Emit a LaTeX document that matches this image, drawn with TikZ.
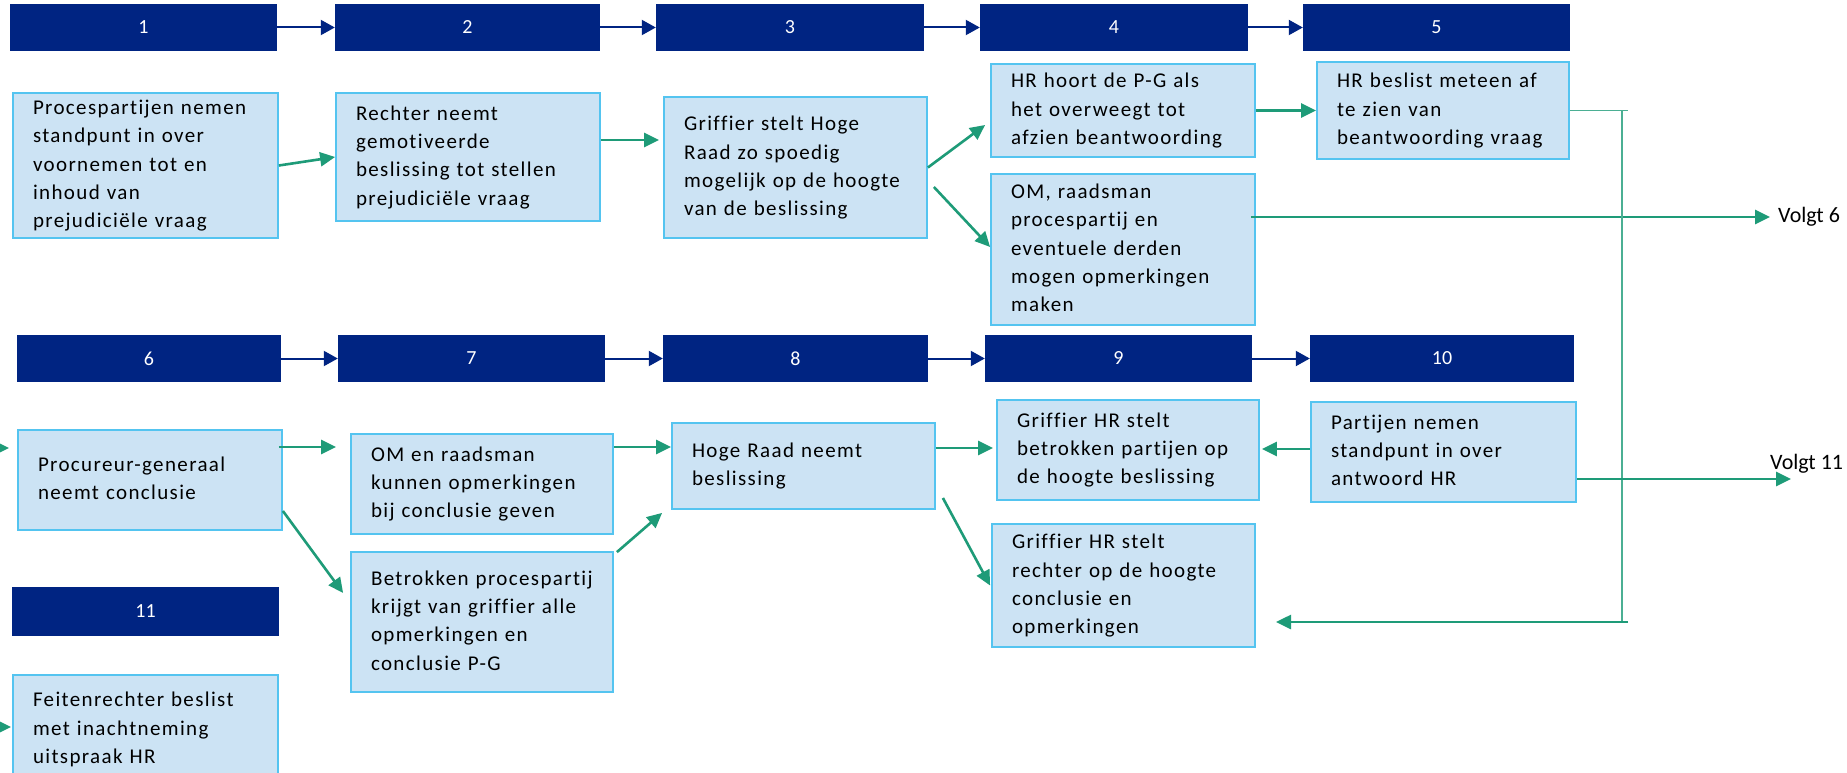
\documentclass[tikz,border=0pt]{standalone}
\usepackage{fontspec}
\setmainfont[Ligatures=NoCommon]{Carlito}
\newfontfamily\boxfont[LetterSpace=6.5,Ligatures=NoCommon]{Carlito}
\usetikzlibrary{arrows.meta,calc}
\definecolor{navy}{RGB}{0,36,130}
\definecolor{boxfill}{RGB}{204,227,244}
\definecolor{boxline}{RGB}{84,196,240}
\definecolor{flowgreen}{RGB}{30,155,120}
\newcommand\lns[1]{\begin{tabular}{@{}l@{}}#1\end{tabular}}
\begin{document}
\begin{tikzpicture}[x=1pt,y=-1pt,
  hdr/.style={fill=navy, draw=none, text=white, font=\fontsize{20}{24}\selectfont, minimum height=47pt, inner sep=0pt},
  box/.style={fill=boxfill, draw=boxline, line width=1.8pt, inner xsep=20pt, inner ysep=0pt, align=left, font=\boxfont\fontsize{21}{28.3}\selectfont},
  harr/.style={draw=navy, line width=2pt, -{Triangle[length=14pt,width=15pt]}},
  garr/.style={draw=flowgreen, line width=2.6pt, -{Triangle[length=15pt,width=14pt]}},
  feedline/.style={draw=flowgreen!80, line width=1.5pt},
  lbl/.style={inner sep=0pt, font=\fontsize{22}{26}\selectfont}
]
\useasboundingbox (0,0) rectangle (1847,773);
\fill[white] (0,0) rectangle (1847,773);
\clip (0,0) rectangle (1847,773);

% headers row 1
\node[hdr, minimum width=267pt] (h1) at (143.5,27.5) {1};
\node[hdr, minimum width=265pt] (h2) at (467.5,27.5) {2};
\node[hdr, minimum width=268pt] (h3) at (790,27.5) {3};
\node[hdr, minimum width=268pt] (h4) at (1114,27.5) {4};
\node[hdr, minimum width=267pt] (h5) at (1436.5,27.5) {5};
% headers row 2
\node[hdr, minimum width=264pt] (h6) at (149,358.5) {6};
\node[hdr, minimum width=267pt] (h7) at (471.5,358.5) {7};
\node[hdr, minimum width=265pt] (h8) at (795.5,358.5) {8};
\node[hdr, minimum width=267pt] (h9) at (1118.5,358.5) {9};
\node[hdr, minimum width=264pt] (h10) at (1442,358.5) {10};
\node[hdr, minimum width=267pt, minimum height=49pt] (h11) at (145.5,611.5) {11};

\draw[harr] (h1) -- (h2);
\draw[harr] (h2) -- (h3);
\draw[harr] (h3) -- (h4);
\draw[harr] (h4) -- (h5);
\draw[harr] (h6) -- (h7);
\draw[harr] (h7) -- (h8);
\draw[harr] (h8) -- (h9);
\draw[harr] (h9) -- (h10);

% boxes row 1
\node[box, minimum width=265pt, minimum height=145pt, text width=225pt] (b1) at (145.5,165.5)
  {\lns{Procespartijen nemen\\standpunt in over\\voornemen tot en\\inhoud van\\prejudiciële vraag}};
\node[box, minimum width=264pt, minimum height=128pt, text width=224pt] (b2) at (468,157)
  {\lns{Rechter neemt\\gemotiveerde\\beslissing tot stellen\\prejudiciële vraag}};
\node[box, minimum width=263pt, minimum height=141pt, text width=223pt] (b3) at (795.5,167.5)
  {\lns{Griffier stelt Hoge\\Raad zo spoedig\\mogelijk op de hoogte\\van de beslissing}};
\node[box, minimum width=264pt, minimum height=93pt, text width=224pt] (b4a) at (1123,110.5)
  {\lns{HR hoort de P-G als\\het overweegt tot\\afzien beantwoording}};
\node[box, minimum width=264pt, minimum height=151pt, text width=224pt] (b4b) at (1123,249.5)
  {\lns{OM, raadsman\\procespartij en\\eventuele derden\\mogen opmerkingen\\maken}};
\node[box, minimum width=252pt, minimum height=97pt, text width=212pt] (b5) at (1443,110.5)
  {\lns{HR beslist meteen af\\te zien van\\beantwoording vraag}};

% boxes row 2
\node[box, minimum width=264pt, minimum height=100pt, text width=224pt] (b6) at (150,480)
  {\lns{Procureur-generaal\\neemt conclusie}};
\node[box, minimum width=262pt, minimum height=100pt, text width=222pt] (b7a) at (482,484)
  {\lns{OM en raadsman\\kunnen opmerkingen\\bij conclusie geven}};
\node[box, minimum width=262pt, minimum height=140pt, text width=222pt] (b7b) at (482,622)
  {\lns{Betrokken procespartij\\krijgt van griffier alle\\opmerkingen en\\conclusie P-G}};
\node[box, minimum width=263pt, minimum height=86pt, text width=223pt] (b8) at (803.5,466)
  {\lns{Hoge Raad neemt\\beslissing}};
\node[box, minimum width=262pt, minimum height=100pt, text width=222pt] (b9a) at (1128,450)
  {\lns{Griffier HR stelt\\betrokken partijen op\\de hoogte beslissing}};
\node[box, minimum width=263pt, minimum height=123pt, text width=223pt] (b9b) at (1123.5,585.5)
  {\lns{Griffier HR stelt\\rechter op de hoogte\\conclusie en\\opmerkingen}};
\node[box, minimum width=265pt, minimum height=100pt, text width=225pt] (b10) at (1443.5,452)
  {\lns{Partijen nemen\\standpunt in over\\antwoord HR}};
\node[box, minimum width=265pt, minimum height=109pt, text width=225pt] (b11) at (145.5,729.5)
  {\lns{Feitenrechter beslist\\met inachtneming\\uitspraak HR}};

% labels and free ends
\node[lbl, anchor=west] (v6) at (1778,217) {Volgt 6};
\node[lbl, anchor=base west] (v11) at (1770,469) {Volgt 11};
\coordinate (v11tip) at (1791,479);
\coordinate (in6) at (-30,448);
\coordinate (in11) at (-30,727);
\coordinate (fbtop) at (1622,110.5);
\coordinate (fbbot) at (1622,623);
\coordinate (fbret) at (1628,622);
\coordinate (fbend) at (1276,622);

% connectors row 1
\draw[garr] (b1.east) -- (b2.west);
\draw[garr] ($(b2.east)+(0,-17)$) -- ($(b3.west)+(-4,-27.5)$);
\draw[garr] (b3.east) -- ($(b4a.west)+(-5,14.5)$);
\draw[garr] ($(b3.east)+(6,19.5)$) -- ($(b4b.west)+(0,-2.5)$);
\draw[garr] (b4a.east) -- (b5.west);
\draw[garr] ($(b4b.east)+(-5,-32.5)$) -- ($(v6.west)+(-8,0)$);

% feedback line
\draw[feedline] (b5.east) -- ($(fbtop)+(6,0)$);
\draw[feedline] (fbtop) -- (fbbot);
\draw[garr] (fbret) -- (fbend);

% connectors row 2
\draw[garr] (in6) -- ($(b6.west)+(-8,-32)$);
\draw[garr] ($(b6.east)+(-4,-33)$) -- ($(b7a.west)+(-14,-37)$);
\draw[garr] ($(b6.east)+(0,31)$) -- ($(b7b.west)+(-7,-29)$);
\draw[garr] ($(b7a.east)+(0,-37)$) -- ($(b8.west)+(0,-19)$);
\draw[garr] ($(b7b.north east)+(3,1)$) -- ($(b8.south west)+(-9,3)$);
\draw[garr] ($(b8.east)+(0,-18)$) -- ($(b9a.west)+(-3,-2)$);
\draw[garr] ($(b8.east)+(7,32)$) -- ($(b9b.west)+(-1,0)$);
\draw[garr] ($(b10.west)+(0,-3)$) -- ($(b9a.east)+(2,-1)$);
\draw[garr] ($(b10.east)+(0,27)$) -- (v11tip);
\draw[garr] (in11) -- ($(b11.west)+(-1,-2.5)$);
\end{tikzpicture}
\end{document}
